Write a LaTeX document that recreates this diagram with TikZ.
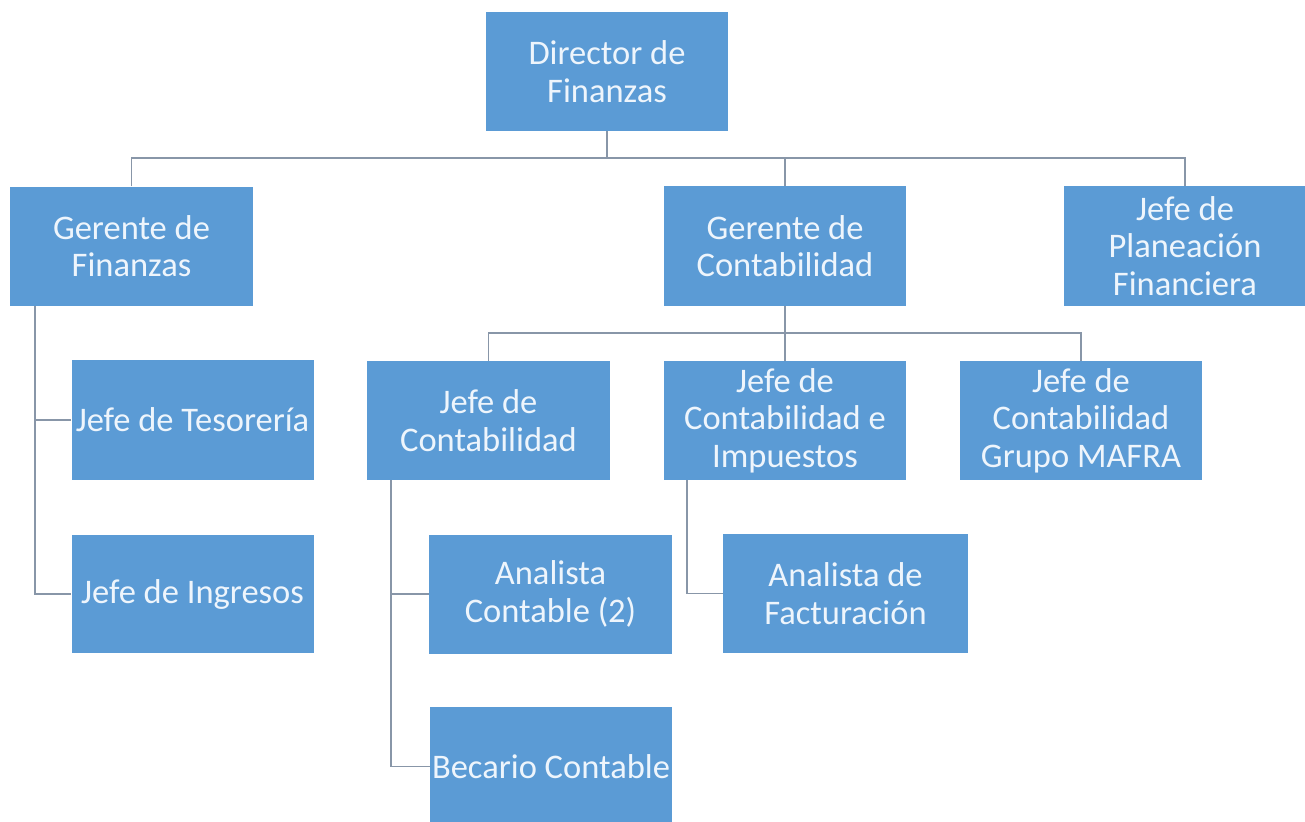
\documentclass[tikz,border=0pt]{standalone}
\usepackage{fontspec}
\setmainfont{Carlito}
\definecolor{boxblue}{HTML}{5B9BD5}
\definecolor{boxtext}{HTML}{EEF5FC}
\definecolor{linegray}{HTML}{8896A8}
\begin{document}
\begin{tikzpicture}[x=1pt,y=-1pt,
  orgbox/.style={rectangle, fill=boxblue, draw=none, minimum width=242pt, minimum height=119pt,
    inner sep=0pt, align=center, text=boxtext, font=\fontsize{34.5}{37.5}\selectfont},
  link/.style={draw=linegray, line width=1.8pt}]
\useasboundingbox (0,0) rectangle (1305,821);
\fill[white] (0,0) rectangle (1305,821);

\node[orgbox] (dir) at (607,71.5) {Director de\\Finanzas};
\node[orgbox, minimum width=243pt] (gf) at (131.5,246) {Gerente de\\Finanzas};
\node[orgbox, minimum height=120pt] (gc) at (785,246) {Gerente de\\Contabilidad};
\node[orgbox, minimum height=120pt] (jp) at (1185,246) {Jefe de\\Planeación\\Financiera};

\node[orgbox, minimum height=120pt] (jt) at (192.5,420) {Jefe de Tesorería};
\node[orgbox, minimum height=118pt] (ji) at (192.5,594) {Jefe de Ingresos};
\node[orgbox, minimum width=243pt] (jc) at (488.5,420.5) {Jefe de\\Contabilidad};
\node[orgbox] (jci) at (785,420.5) {Jefe de\\Contabilidad e\\Impuestos};
\node[orgbox] (jm) at (1081,420.5) {Jefe de\\Contabilidad\\Grupo MAFRA};

\node[orgbox, minimum width=243pt] (ac) at (550.5,594) {Analista\\Contable (2)};
\node[orgbox, minimum width=245pt] (af) at (845.5,593.5) {Analista de\\Facturación};
\node[orgbox] (bc) at (551,766.5) {Becario Contable};

\coordinate (busA) at (0,158);
\coordinate (busB) at (0,333);
\coordinate (xg) at (35,0);
\coordinate (xc) at (391,0);
\coordinate (xi) at (687,0);

% level 1
\draw[link] (dir.south) -- (dir.south |- busA);
\draw[link] (gf.north) -- (gf.north |- busA) -- (jp.north |- busA) -- (jp.north);
\draw[link] (gc.north) -- (gc.north |- busA);

% level 2
\draw[link] (jc.north) -- (jc.north |- busB) -- (jm.north |- busB) -- (jm.north);
\draw[link] (gc.south) -- (jci.north);

% side brackets
\draw[link] (gf.south -| xg) -- (xg |- ji.west) -- (ji.west);
\draw[link] (xg |- jt.west) -- (jt.west);
\draw[link] (jc.south -| xc) -- (xc |- bc.west) -- (bc.west);
\draw[link] (xc |- ac.west) -- (ac.west);
\draw[link] (jci.south -| xi) -- (xi |- af.west) -- (af.west);
\end{tikzpicture}
\end{document}
